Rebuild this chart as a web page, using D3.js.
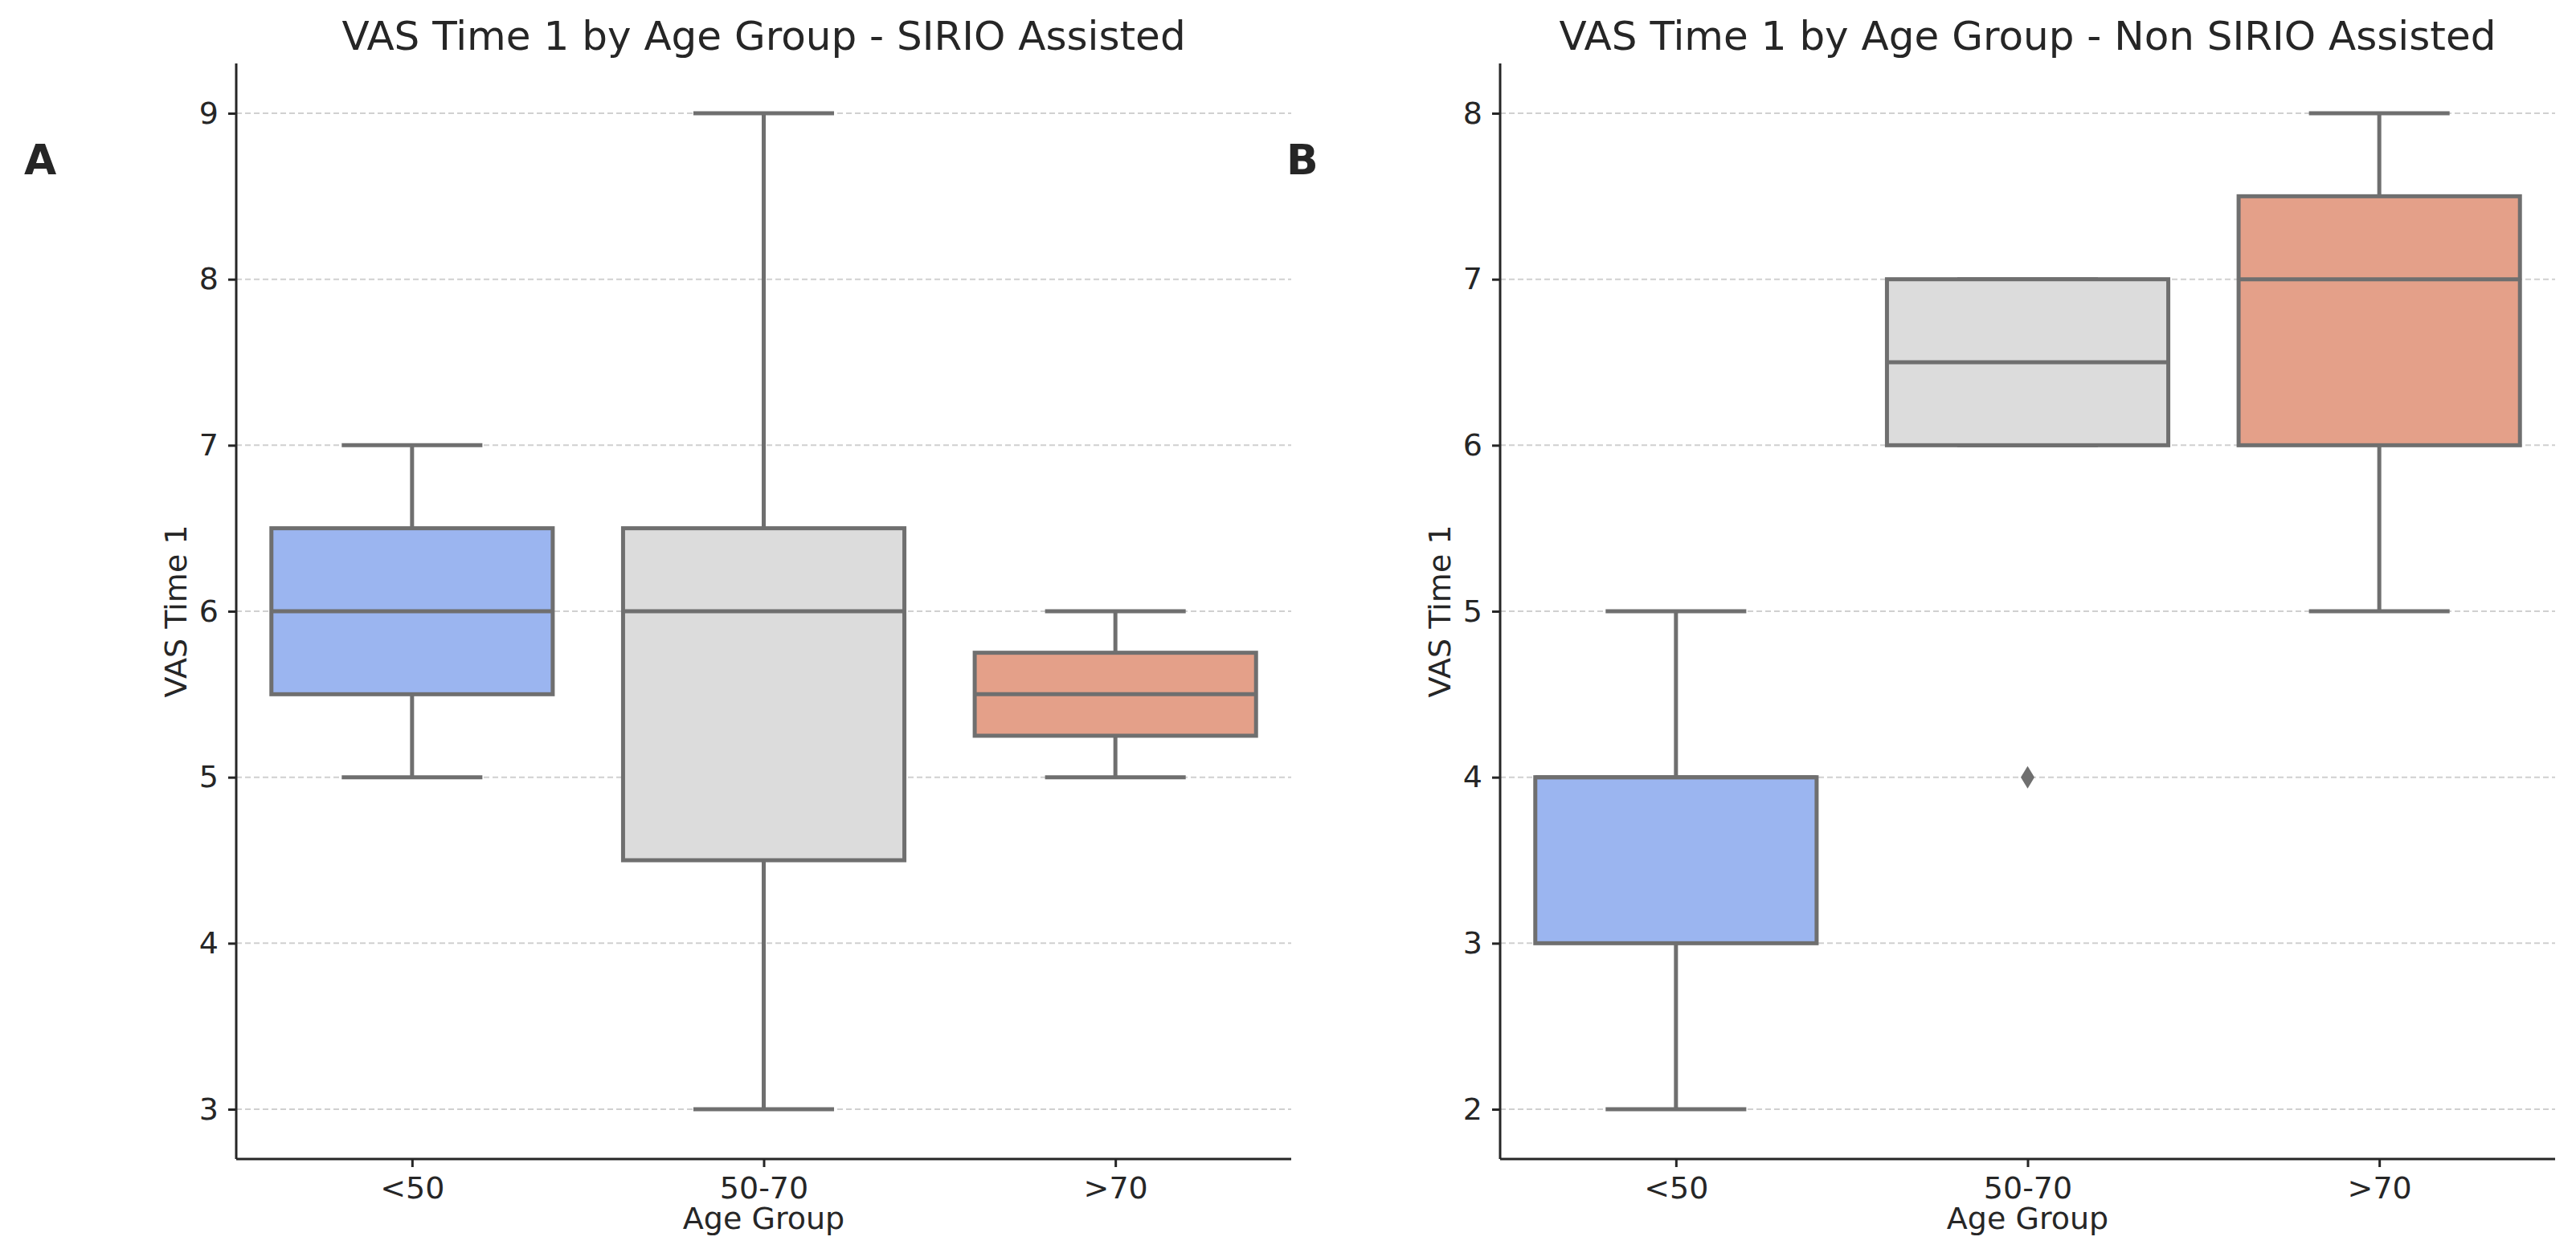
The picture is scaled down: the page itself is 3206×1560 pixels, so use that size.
<!DOCTYPE html>
<html>
<head>
<meta charset="utf-8">
<script src="https://cdn.jsdelivr.net/npm/d3@7"></script>
<style>
  body { margin: 0; background: #fff; }
  text { font-family: "DejaVu Sans", sans-serif; fill: #262626; }
</style>
</head>
<body>
<div id="chart"></div>
<script>
// age groups on the x axis
var groups = ["<50", "50-70", ">70"];
var boxColors = ["#9bb5f0", "#dcdcdc", "#e4a089"];

// five-number summaries: [low whisker, q1, median, q3, high whisker]
var sirioStats = [
  [5, 5.5, 6, 6.5, 7],
  [3, 4.5, 6, 6.5, 9],
  [5, 5.25, 5.5, 5.75, 6]
];
var nonSirioStats = [
  [2, 3, 4, 4, 5],
  [6, 6, 6.5, 7, 7],
  [5, 6, 7, 7.5, 8]
];
// outliers: [group index, value]
var sirioOutliers = [];
var nonSirioOutliers = [[1, 4]];

var sirioTicks = [3, 4, 5, 6, 7, 8, 9];
var nonSirioTicks = [2, 3, 4, 5, 6, 7, 8];

var W = 3206, H = 1560;
var svg = d3.select("#chart").append("svg").attr("width", W).attr("height", H);

var panels = [
  { letter: "A", letterX: 30, left: 294, title: "VAS Time 1 by Age Group - SIRIO Assisted",
    stats: sirioStats, outliers: sirioOutliers, ticks: sirioTicks, domain: [2.7, 9.3] },
  { letter: "B", letterX: 1601, left: 1867, title: "VAS Time 1 by Age Group - Non SIRIO Assisted",
    stats: nonSirioStats, outliers: nonSirioOutliers, ticks: nonSirioTicks, domain: [1.7, 8.3] }
];

var plotW = 1313, plotTop = 79, plotBottom = 1443;
var edge = "#6f6f6f";

panels.forEach(function(p) {
  var g = svg.append("g");

  var x = d3.scalePoint().domain(groups).range([p.left, p.left + plotW]).padding(0.5);
  var y = d3.scaleLinear().domain(p.domain).range([plotBottom, plotTop]);
  var step = x.step();
  var boxW = step * 0.8;

  // grid
  g.append("g").selectAll("line").data(p.ticks).join("line")
    .attr("x1", p.left).attr("x2", p.left + plotW)
    .attr("y1", function(d) { return y(d); }).attr("y2", function(d) { return y(d); })
    .attr("stroke", "#d0d0d0").attr("stroke-width", 2).attr("stroke-dasharray", "7,4");

  var boxes = g.append("g").selectAll("g").data(p.stats).join("g");

  // whiskers
  boxes.append("line")
    .attr("x1", function(d, i) { return x(groups[i]); }).attr("x2", function(d, i) { return x(groups[i]); })
    .attr("y1", function(d) { return y(d[0]); }).attr("y2", function(d) { return y(d[1]); })
    .attr("stroke", edge).attr("stroke-width", 5);
  boxes.append("line")
    .attr("x1", function(d, i) { return x(groups[i]); }).attr("x2", function(d, i) { return x(groups[i]); })
    .attr("y1", function(d) { return y(d[3]); }).attr("y2", function(d) { return y(d[4]); })
    .attr("stroke", edge).attr("stroke-width", 5);

  // caps
  [0, 4].forEach(function(k) {
    boxes.append("line")
      .attr("x1", function(d, i) { return x(groups[i]) - boxW / 4; })
      .attr("x2", function(d, i) { return x(groups[i]) + boxW / 4; })
      .attr("y1", function(d) { return y(d[k]); }).attr("y2", function(d) { return y(d[k]); })
      .attr("stroke", edge).attr("stroke-width", 5);
  });

  // box
  boxes.append("rect")
    .attr("x", function(d, i) { return x(groups[i]) - boxW / 2; })
    .attr("width", boxW)
    .attr("y", function(d) { return y(d[3]); })
    .attr("height", function(d) { return y(d[1]) - y(d[3]); })
    .attr("fill", function(d, i) { return boxColors[i]; })
    .attr("stroke", edge).attr("stroke-width", 5);

  // median
  boxes.append("line")
    .attr("x1", function(d, i) { return x(groups[i]) - boxW / 2; })
    .attr("x2", function(d, i) { return x(groups[i]) + boxW / 2; })
    .attr("y1", function(d) { return y(d[2]); }).attr("y2", function(d) { return y(d[2]); })
    .attr("stroke", edge).attr("stroke-width", 5);

  // outliers as thin diamonds
  g.append("g").selectAll("path").data(p.outliers).join("path")
    .attr("transform", function(d) { return "translate(" + x(groups[d[0]]) + "," + y(d[1]) + ")"; })
    .attr("d", "M0,-14L8.5,0L0,14L-8.5,0Z")
    .attr("fill", edge);

  // axes
  var yAxis = g.append("g")
    .attr("transform", "translate(" + p.left + ",0)")
    .call(d3.axisLeft(y).tickValues(p.ticks).tickFormat(d3.format("d")).tickSize(10).tickPadding(12));
  var xAxis = g.append("g")
    .attr("transform", "translate(0," + plotBottom + ")")
    .call(d3.axisBottom(x).tickSize(10).tickPadding(12));

  [yAxis, xAxis].forEach(function(a) {
    a.select(".domain").attr("stroke", "#262626").attr("stroke-width", 3);
    a.selectAll(".tick line").attr("stroke", "#262626").attr("stroke-width", 3);
    a.selectAll(".tick text").attr("font-size", 38).attr("font-family", "DejaVu Sans").attr("fill", "#262626");
  });
  yAxis.select(".domain").attr("d", "M0," + plotTop + "V" + plotBottom);
  xAxis.select(".domain").attr("d", "M" + p.left + ",0H" + (p.left + plotW));

  // labels
  g.append("text")
    .attr("x", p.left + plotW / 2).attr("y", 62)
    .attr("text-anchor", "middle").attr("font-size", 50)
    .text(p.title);
  g.append("text")
    .attr("x", p.left + plotW / 2).attr("y", 1530)
    .attr("text-anchor", "middle").attr("font-size", 38)
    .text("Age Group");
  g.append("text")
    .attr("transform", "translate(" + (p.left - 62) + "," + ((plotTop + plotBottom) / 2) + ") rotate(-90)")
    .attr("text-anchor", "middle").attr("font-size", 38)
    .text("VAS Time 1");
  g.append("text")
    .attr("x", p.letterX).attr("y", 217)
    .attr("font-size", 52).attr("font-weight", "bold")
    .text(p.letter);
});
</script>
</body>
</html>
